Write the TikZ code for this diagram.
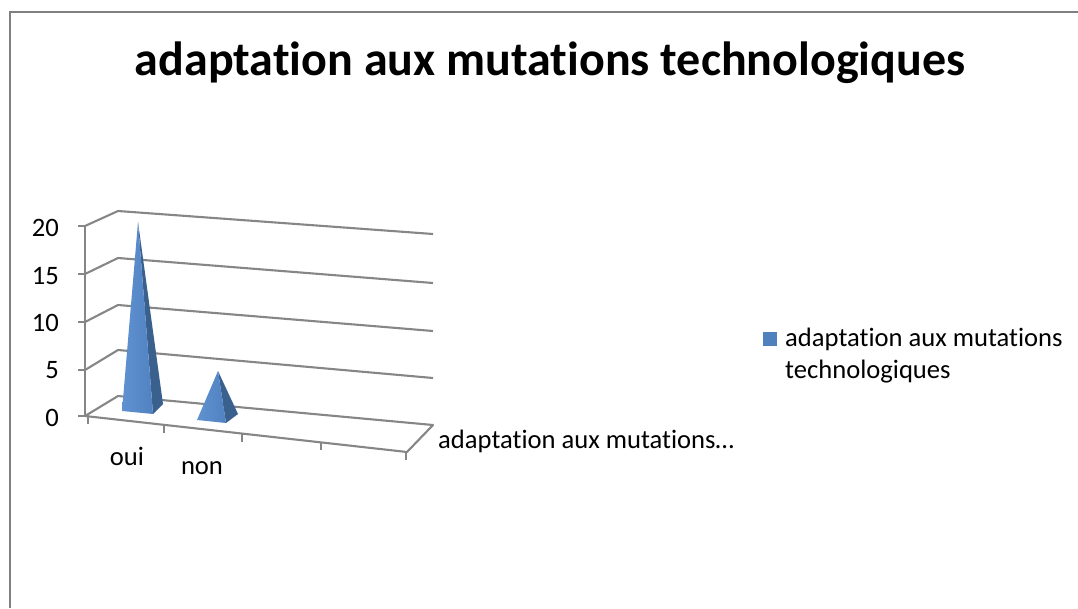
\documentclass[tikz,border=0pt]{standalone}
\usepackage{fontspec}
\setmainfont{Carlito}[Ligatures=NoCommon]
\usetikzlibrary{calc}
\definecolor{gridgray}{RGB}{134,134,134}
\definecolor{framegray}{RGB}{128,128,128}
\definecolor{pyrlight}{RGB}{96,146,210}
\definecolor{pyrmid}{RGB}{80,130,194}
\definecolor{pyrdark}{RGB}{58,96,142}
\definecolor{legblue}{RGB}{79,129,189}
\begin{document}
\begin{tikzpicture}[x=1pt,y=-1pt,
  lbl/.style={inner sep=0pt,font=\fontsize{26.6}{32}\selectfont},
  wall/.style={draw=gridgray,line width=2.1pt,line join=round},
  frameline/.style={draw=framegray,line width=1.8pt},
  facefront/.style={left color=pyrlight,right color=pyrmid,draw=none},
  faceside/.style={fill=pyrdark,draw=none}]
\useasboundingbox (0,0) rectangle (1078,608);

% chart frame
\draw[frameline] (10,608) -- (10,12) -- (1078,12);

% title
\node[lbl,font=\fontsize{48}{56}\bfseries,anchor=base] (title) at (550,75) {adaptation aux mutations technologiques};

% floor corners
\coordinate (fl) at (85,416);
\coordinate (bl) at (118,396);
\coordinate (br) at (433,425);
\coordinate (fr) at (407,452);

% side and back wall grid lines
\foreach \fy/\by/\ry in {370/350/378, 322/305/331, 274/258/283, 226/211/234}
  \draw[wall] (85,\fy) -- (118,\by) -- (433,\ry);
% floor
\draw[wall] (fl) -- (bl) -- (br) -- (fr) -- cycle;
% vertical axis with ticks
\draw[wall] (85,226) -- (fl);
\foreach \y in {226,274,322,370,416}
  \draw[wall] (78,\y) -- (85,\y);
% category ticks along the front edge
\foreach \x in {88,164,242,321,406}
  \draw[wall] ($(fl)!{(\x-85)/322}!(fr)$) -- ++(0,8);

% value labels
\node[lbl,anchor=east] (v20) at (59,228) {20};
\node[lbl,anchor=east] (v15) at (59,276) {15};
\node[lbl,anchor=east] (v10) at (59,323) {10};
\node[lbl,anchor=east] (v5)  at (59,370) {5};
\node[lbl,anchor=east] (v0)  at (59,418) {0};

% category labels
\node[lbl,anchor=base] (oui) at (127,465) {oui};
\node[lbl,anchor=base] (non) at (202,474) {non};
\node[lbl,anchor=base west] (ser) at (438,448) {adaptation aux mutations…};

% pyramid "oui"
\coordinate (p1a) at (138,222);
\coordinate (p1l) at (122,411);
\coordinate (p1r) at (153,414);
\coordinate (p1b) at (163,404);
\fill[faceside] (p1a) -- (p1r) -- (p1b) -- cycle;
\shade[facefront] (p1a) -- (p1l) -- (p1r) -- cycle;

% pyramid "non"
\coordinate (p2a) at (218,371);
\coordinate (p2l) at (197,420);
\coordinate (p2r) at (226,423);
\coordinate (p2b) at (238,414);
\fill[faceside] (p2a) -- (p2r) -- (p2b) -- cycle;
\shade[facefront] (p2a) -- (p2l) -- (p2r) -- cycle;

% legend
\node[fill=legblue,minimum size=14pt,inner sep=0pt] (key) at (770,339) {};
\node[lbl,anchor=base west] (legtext) at (785,346) {adaptation aux mutations};
\node[lbl,anchor=base west] (legtext2) at (785,378) {technologiques};
\end{tikzpicture}
\end{document}
